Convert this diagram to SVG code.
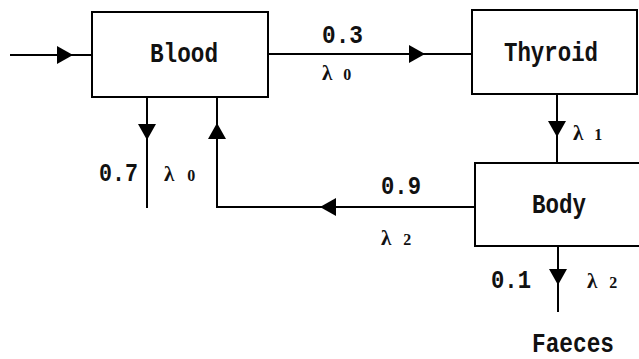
<svg xmlns="http://www.w3.org/2000/svg" width="639" height="359" viewBox="0 0 639 359">
<style>
.box{fill:#fff;stroke:#000;stroke-width:2}
.ln{fill:none;stroke:#000;stroke-width:2}
.lbl{font-family:"Liberation Mono","DejaVu Sans Mono",monospace;font-size:27px;font-weight:bold;fill:#111}
.num{font-family:"Liberation Mono","DejaVu Sans Mono",monospace;font-size:25px;font-weight:bold;fill:#111}
.lam{font-family:"Liberation Serif","DejaVu Serif",serif;font-size:21px;font-weight:bold;fill:#111}
.sub{font-size:16px}
</style>
<defs>
<path id="ah" d="M0,0 L-16,-9 L-16,9 Z" fill="#000"/>
</defs>
<rect width="639" height="359" fill="#fff"/>
<g id="connectors">
<line class="ln" x1="10" y1="55" x2="92" y2="55"/>
<use href="#ah" transform="translate(73,55)"/>
<line class="ln" x1="268" y1="54" x2="472" y2="54"/>
<use href="#ah" transform="translate(425,54)"/>
<line class="ln" x1="557" y1="94" x2="557" y2="163"/>
<use href="#ah" transform="translate(557,137) rotate(90)"/>
<polyline class="ln" points="475,207 217,207 217,97"/>
<use href="#ah" transform="translate(320,207) rotate(180)"/>
<use href="#ah" transform="translate(217,123) rotate(-90)"/>
<line class="ln" x1="147" y1="97" x2="147" y2="208"/>
<use href="#ah" transform="translate(147,140) rotate(90)"/>
<line class="ln" x1="558" y1="246" x2="558" y2="312"/>
<use href="#ah" transform="translate(558,285) rotate(90)"/>
<text class="num" x="322" y="43" textLength="41" lengthAdjust="spacingAndGlyphs">0.3</text>
<text class="lam" x="322" y="80">λ<tspan class="sub" dx="11">0</tspan></text>
<text class="lam" x="573" y="140">λ<tspan class="sub" dx="11">1</tspan></text>
<text class="num" x="381" y="194" textLength="40" lengthAdjust="spacingAndGlyphs">0.9</text>
<text class="lam" x="381" y="245">λ<tspan class="sub" dx="12">2</tspan></text>
<text class="num" x="99" y="181" textLength="39" lengthAdjust="spacingAndGlyphs">0.7</text>
<text class="lam" x="164" y="181">λ<tspan class="sub" dx="13">0</tspan></text>
<text class="num" x="491" y="288" textLength="40" lengthAdjust="spacingAndGlyphs">0.1</text>
<text class="lam" x="587" y="288">λ<tspan class="sub" dx="12">2</tspan></text>
</g>
<g id="blood">
<rect class="box" x="92" y="12" width="176" height="85"/>
<text class="lbl" x="150" y="62" textLength="68" lengthAdjust="spacingAndGlyphs">Blood</text>
</g>
<g id="thyroid">
<rect class="box" x="472" y="10" width="165" height="84"/>
<text class="lbl" x="504" y="61" textLength="94" lengthAdjust="spacingAndGlyphs">Thyroid</text>
</g>
<g id="body">
<rect class="box" x="475" y="163" width="170" height="83"/>
<text class="lbl" x="532" y="213" textLength="54" lengthAdjust="spacingAndGlyphs">Body</text>
</g>
<g id="faeces">
<text class="lbl" x="532" y="352" textLength="82" lengthAdjust="spacingAndGlyphs">Faeces</text>
</g>
</svg>
